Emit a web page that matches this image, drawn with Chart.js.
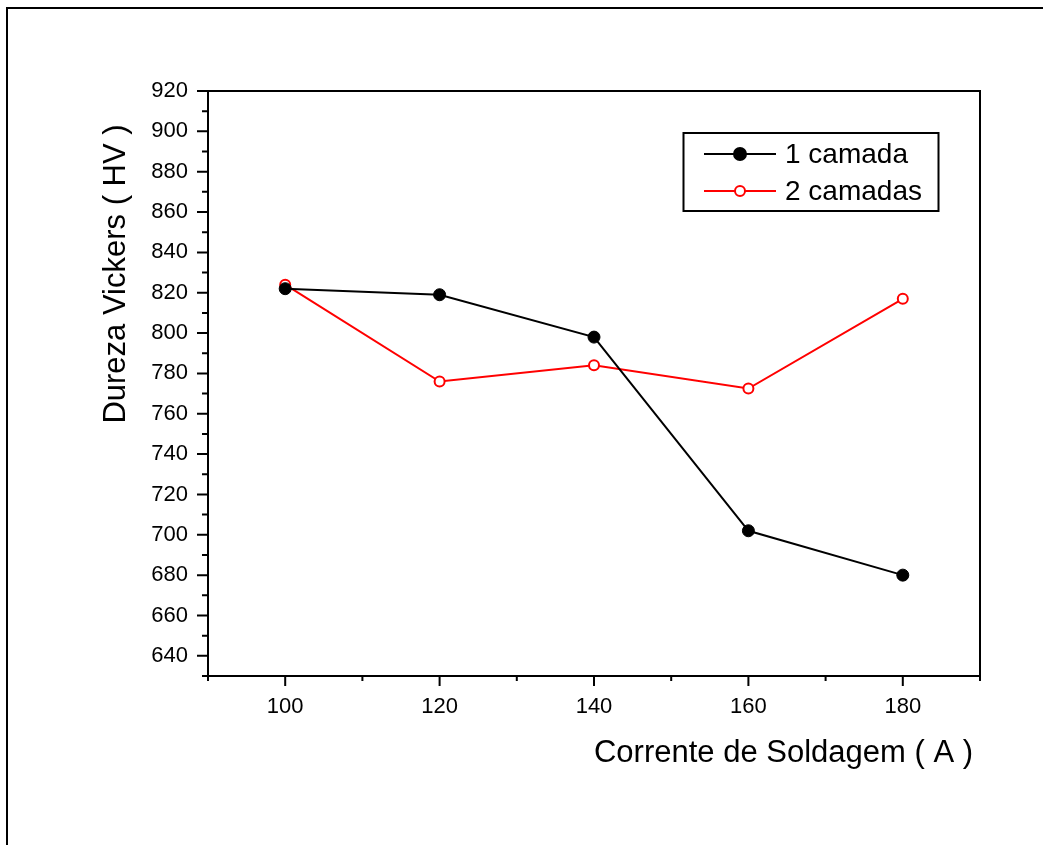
<!DOCTYPE html>
<html>
<head>
<meta charset="utf-8">
<script src="https://cdn.jsdelivr.net/npm/chart.js@4.4.0/dist/chart.umd.min.js"></script>
<style>
  html, body { margin: 0; padding: 0; background: #fff; }
  #wrap { width: 1043px; height: 845px; }
</style>
</head>
<body>
<div id="wrap"><canvas id="hardness-chart" width="1043" height="845"></canvas></div>
<script>
var currents = [100, 120, 140, 160, 180];
var umaCamada = [822, 819, 798, 702, 680];
var duasCamadas = [824, 776, 784, 772.5, 817];
var seriesNames = ['1 camada', '2 camadas'];
var xTitle = 'Corrente de Soldagem ( A )';
var yTitle = 'Dureza Vickers ( HV )';

var FONT = 'Arial, "Liberation Sans", sans-serif';

function toPoints(xs, ys) {
  return xs.map(function (x, i) { return { x: x, y: ys[i] }; });
}

// ticks, frame, titles and legend drawn Origin-style
var originStyle = {
  id: 'originStyle',
  afterDraw: function (chart) {
    var c = chart.ctx;
    var a = chart.chartArea;
    var xs = chart.scales.x, ys = chart.scales.y;
    c.save();
    c.strokeStyle = '#000';
    c.lineWidth = 2;
    c.strokeRect(a.left, a.top, a.right - a.left, a.bottom - a.top);

    c.beginPath();
    for (var v = 90; v <= 190; v += 10) {
      var px = xs.getPixelForValue(v);
      var len = (v % 20 === 0) ? 10 : 5;
      c.moveTo(px, a.bottom);
      c.lineTo(px, a.bottom + len);
    }
    for (var w = 630; w <= 920; w += 10) {
      var py = ys.getPixelForValue(w);
      var l2 = (w % 20 === 0) ? 11 : 6;
      c.moveTo(a.left, py);
      c.lineTo(a.left - l2, py);
    }
    c.stroke();

    // outer frame
    c.lineWidth = 2;
    c.beginPath();
    c.moveTo(7, 845);
    c.lineTo(7, 8);
    c.lineTo(1043, 8);
    c.stroke();

    // axis titles
    c.fillStyle = '#000';
    c.font = '31px ' + FONT;
    c.textAlign = 'right';
    c.textBaseline = 'alphabetic';
    c.fillText(xTitle, 973, 762);
    c.translate(125, 274);
    c.rotate(-Math.PI / 2);
    c.textAlign = 'center';
    c.fillText(yTitle, 0, 0);
    c.setTransform(1, 0, 0, 1, 0, 0);

    // legend
    c.lineWidth = 2;
    c.strokeRect(683.5, 133, 255, 78);
    var rows = [
      { y: 154, color: '#000', fill: '#000', r: 6 },
      { y: 191, color: '#ff0000', fill: '#fff', r: 5 }
    ];
    rows.forEach(function (row, i) {
      c.strokeStyle = row.color;
      c.lineWidth = 2;
      c.beginPath();
      c.moveTo(704, row.y);
      c.lineTo(776, row.y);
      c.stroke();
      c.beginPath();
      c.arc(740, row.y, row.r, 0, Math.PI * 2);
      c.fillStyle = row.fill;
      c.fill();
      c.stroke();
      c.fillStyle = '#000';
      c.font = '28px ' + FONT;
      c.textAlign = 'left';
      c.textBaseline = 'middle';
      c.fillText(seriesNames[i], 785, row.y + 1);
    });
    c.restore();
  }
};

var ctx = document.getElementById('hardness-chart').getContext('2d');

var mychart = new Chart(ctx, {
  type: 'line',
  data: {
    datasets: [{
      label: seriesNames[0],
      data: toPoints(currents, umaCamada),
      borderColor: '#000',
      backgroundColor: '#000',
      borderWidth: 2,
      pointRadius: 6,
      pointBorderWidth: 1,
      pointBackgroundColor: '#000',
      pointBorderColor: '#000',
      tension: 0
    }, {
      label: seriesNames[1],
      data: toPoints(currents, duasCamadas),
      borderColor: '#ff0000',
      backgroundColor: '#fff',
      borderWidth: 2,
      pointRadius: 5,
      pointBorderWidth: 2,
      pointBackgroundColor: '#fff',
      pointBorderColor: '#ff0000',
      tension: 0
    }]
  },
  options: {
    responsive: false,
    animation: false,
    layout: { padding: { top: 91, right: 63, left: 0, bottom: 0 } },
    plugins: {
      legend: { display: false },
      title: { display: false },
      tooltip: { enabled: false }
    },
    scales: {
      x: {
        type: 'linear',
        min: 90,
        max: 190,
        afterFit: function (s) { s.height = 169; },
        grid: { display: false, drawTicks: false },
        border: { display: false },
        ticks: {
          stepSize: 10,
          autoSkip: false,
          maxRotation: 0,
          padding: 18,
          color: '#000',
          font: { family: FONT, size: 22 },
          callback: function (v) { return (v % 20 === 0) ? v : ''; }
        }
      },
      y: {
        min: 630,
        max: 920,
        afterFit: function (s) { s.width = 208; },
        grid: { display: false, drawTicks: false },
        border: { display: false },
        ticks: {
          stepSize: 10,
          padding: 20,
          autoSkip: false,
          color: '#000',
          font: { family: FONT, size: 22 },
          callback: function (v) { return (v % 20 === 0) ? v : ''; }
        }
      }
    }
  },
  plugins: [originStyle]
});
</script>
</body>
</html>
